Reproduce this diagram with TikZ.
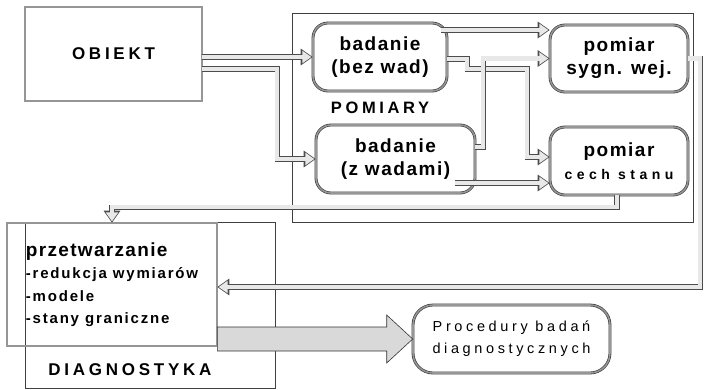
\documentclass[tikz,border=0pt]{standalone}
\usepackage{fontspec}
\setmainfont{Liberation Sans}
\newfontfamily\boxfont[LetterSpace=8]{Liberation Sans}
\newfontfamily\titlefont[LetterSpace=7]{Liberation Sans}
\newfontfamily\widefont[LetterSpace=22]{Liberation Sans}
\newfontfamily\smallfont[LetterSpace=32]{Liberation Sans}
\newfontfamily\listfont[LetterSpace=12]{Liberation Sans}
\newfontfamily\procfont[LetterSpace=25]{Liberation Sans}
\usepackage{tikz}
\usetikzlibrary{arrows.meta,calc}
\definecolor{pipegray}{RGB}{232,232,232}
\definecolor{rimgray}{RGB}{150,150,150}

\begin{document}
\begin{tikzpicture}[x=1pt, y=-1pt,
    frame/.style={draw=black!75, line width=0.8pt},
    sqbox/.style={draw=black!80, line width=0.6pt, double=rimgray,
      double distance=1.6pt, inner sep=0pt},
    rbox/.style={sqbox, rounded corners=15pt},
    pipe/.style={draw=pipegray, line width=4.2pt,
      -{Triangle[length=9pt, width=12pt]}, shorten >=1.4pt,
      preaction={draw=black!70, line width=5.6pt, shorten >=0pt,
        -{Triangle[length=12pt, width=16pt]}}},
    bigarrow/.style={draw=black!80, line width=0.6pt, fill=gray!30},
    boxtxt/.style={font=\boxfont\bfseries\fontsize{19}{23}\selectfont, align=center},
    widetxt/.style={font=\widefont\bfseries\fontsize{17}{20}\selectfont}]
  \useasboundingbox (0,0) rectangle (704,389);
  % frames
  \draw[frame] (292,13) rectangle (693,222);
  \draw[frame] (25,222) rectangle (275,388);
  % boxes
  \node[sqbox, minimum width=177, minimum height=94, widetxt] (obiekt)
    at (113.5,54) {OBIEKT};
  \node[rbox, minimum width=134, minimum height=68, boxtxt] (bez)
    at (380,57) {badanie\\(bez wad)};
  \node[rbox, minimum width=138, minimum height=67, boxtxt] (syg)
    at (619,58.5) {pomiar\\sygn. wej.};
  \node[rbox, minimum width=159, minimum height=68, boxtxt] (zw)
    at (395.5,159) {badanie\\(z wadami)};
  \node[rbox, minimum width=138, minimum height=68, boxtxt] (cech)
    at (619,161) {pomiar\\{\smallfont\fontsize{14}{20}\selectfont cech stanu}};
  \node[widetxt, font=\widefont\bfseries\fontsize{16.5}{20}\selectfont] (pomlbl)
    at (380,108) {POMIARY};
  \node[sqbox, minimum width=210, minimum height=123, align=left,
    font=\listfont\bfseries\fontsize{15}{22.5}\selectfont] (prz) at (112,284.5)
    {{\titlefont\fontsize{19}{23}\selectfont przetwarzanie}\\-redukcja wymiarów\\-modele\\-stany graniczne};
  \node[widetxt] (diaglbl) at (130,370) {DIAGNOSTYKA};
  \node[rbox, rounded corners=20pt, minimum width=197, minimum height=68,
    align=center, font=\procfont\fontsize{14.5}{22}\selectfont] (proc)
    at (511.5,339) {Procedury badań\\diagnostycznych};
  % wide arrow to procedures
  \draw[bigarrow] ($(prz.east |- proc.west)+(0,-12)$)
    -- ($(proc.west)+(-26,-12)$) -- ($(proc.west)+(-26,-24)$)
    -- (proc.west) -- ($(proc.west)+(-26,24)$)
    -- ($(proc.west)+(-26,12)$) -- ($(prz.east |- proc.west)+(0,12)$) -- cycle;
  % from OBIEKT
  \draw[pipe] (obiekt.east |- bez.west) -- (bez.west);
  \draw[pipe] ([yshift=-15]obiekt.east) -- ++(75,0) |- (zw.west);
  % from badanie (bez wad)
  \draw[pipe] ([xshift=-6,yshift=27]bez.east) coordinate (b1) -- (b1 -| syg.west);
  \draw[pipe] ([yshift=-2]bez.east) -- ++(20,0) -- ++(0,10) -- ++(60,0)
    |- ([yshift=4]cech.west);
  % from badanie (z wadami)
  \draw[pipe] ([yshift=12]zw.east) -- ++(8,0) |- (syg.west);
  \draw[pipe] ([xshift=-20,yshift=-24]zw.east) coordinate (z1) -- (z1 -| cech.west);
  % back to DIAGNOSTYKA
  \draw[pipe] ([xshift=-2]cech.south) -- ++(0,12) -| (prz.north);
  \draw[pipe] (syg.east) -- ++(12,0) |- ([yshift=-2.5]prz.east);
\end{tikzpicture}
\end{document}
